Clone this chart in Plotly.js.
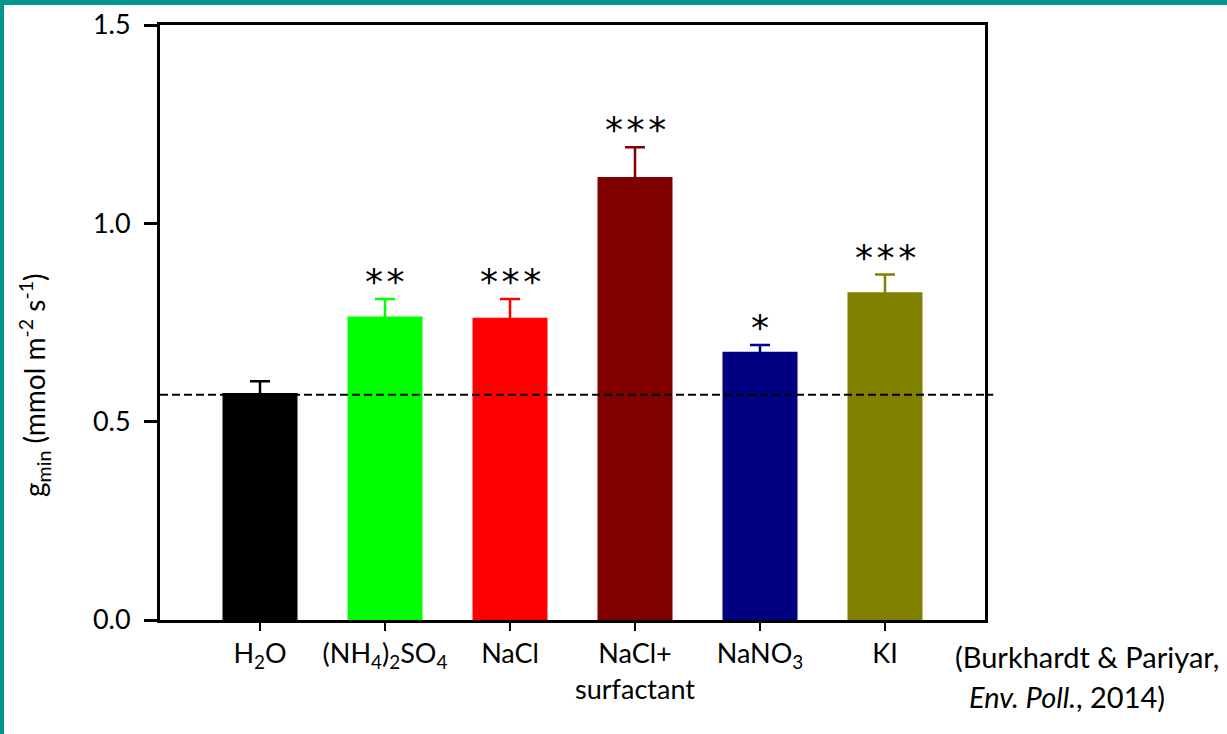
<!DOCTYPE html>
<html>
<head>
<meta charset="utf-8">
<script src="https://cdn.plot.ly/plotly-3.0.1.min.js"></script>
<style>
  html, body { margin: 0; padding: 0; background: #ffffff; }
  #wrap { position: relative; width: 1227px; height: 734px; overflow: hidden; }
  #chart { position: absolute; left: 0; top: 0; width: 1227px; height: 734px; }
  #bTop { position: absolute; left: 0; top: 0; width: 1227px; height: 5px; background: #00968f; }
  #bLeft { position: absolute; left: 0; top: 0; width: 4px; height: 734px; background: #00968f; }
</style>
</head>
<body>
<div id="wrap">
  <div id="chart"></div>
  <div id="bTop"></div>
  <div id="bLeft"></div>
</div>
<script>
// ---- data ----
var categories = ["H<sub>2</sub>O", "(NH<sub>4</sub>)<sub>2</sub>SO<sub>4</sub>", "NaCl", "NaCl+<br>surfactant", "NaNO<sub>3</sub>", "KI"];
var means = [0.572, 0.765, 0.762, 1.117, 0.676, 0.826];
var errors = [0.030, 0.044, 0.047, 0.075, 0.017, 0.045];
var significance = ["", "**", "***", "***", "*", "***"];
var barColors = ["#000000", "#00ff00", "#ff0000", "#800000", "#000080", "#808000"];
var controlLevel = 0.568;
var yTicks = [0, 0.5, 1.0, 1.5];
var citationLine1 = "(Burkhardt & Pariyar,";
var citationLine2 = "<i>Env. Poll.</i>, 2014)";
var yTitle = "g<sub>min</sub> (mmol m<sup>-2</sup> s<sup>-1</sup>)";

var FONT = "Lato, 'Open Sans', sans-serif";

// Error bars drawn symmetric in the bar's own colour: the lower half is hidden inside the bar,
// so only the upper whisker is visible, as in the reference.
var traces = categories.map(function (c, i) {
  return {
    type: "bar",
    x: [i],
    y: [means[i]],
    width: 0.6,
    marker: { color: barColors[i], line: { width: 0 } },
    error_y: {
      type: "data", symmetric: true,
      array: [errors[i]],
      color: barColors[i], thickness: 2.5, width: 10
    },
    hoverinfo: "skip",
    showlegend: false
  };
});

var annotations = [];
categories.forEach(function (c, i) {
  if (significance[i]) {
    annotations.push({
      x: i, y: means[i] + errors[i], xref: "x", yref: "y",
      text: significance[i].split("").join("\u200A"), showarrow: false,
      xanchor: "center", yanchor: "bottom", yshift: -5,
      font: { family: "'DejaVu Sans', sans-serif", size: 36, color: "#000000" }
    });
  }
});
annotations.push({
  xref: "paper", yref: "paper", x: -0.1515, y: 0.395,
  text: yTitle, textangle: -90, showarrow: false,
  xanchor: "center", yanchor: "middle",
  font: { family: FONT, size: 28, color: "#000000" }
});
annotations.push({
  xref: "paper", yref: "paper", x: 0.961, y: -0.062,
  text: citationLine1, showarrow: false, xanchor: "left", yanchor: "middle",
  font: { family: FONT, size: 29, color: "#000000" }
});
annotations.push({
  xref: "paper", yref: "paper", x: 0.978, y: -0.128,
  text: citationLine2, showarrow: false, xanchor: "left", yanchor: "middle",
  font: { family: FONT, size: 29, color: "#000000" }
});

var layout = {
  width: 1227, height: 734,
  margin: { l: 160, r: 242, t: 25, b: 114 },
  paper_bgcolor: "#ffffff", plot_bgcolor: "#ffffff",
  barmode: "overlay",
  font: { family: FONT, size: 27, color: "#000000" },
  xaxis: {
    range: [-0.8, 5.8],
    tickmode: "array", tickvals: categories.map(function (c, i) { return i; }), ticktext: categories,
    ticks: "outside", ticklen: 8, tickwidth: 2.5, tickcolor: "#000000",
    showline: true, linecolor: "#000000", linewidth: 3, mirror: true,
    showgrid: false, zeroline: false, fixedrange: true,
    tickfont: { family: FONT, size: 27, color: "#000000" }
  },
  yaxis: {
    range: [0, 1.5],
    tickmode: "array", tickvals: yTicks, tickformat: ".1f",
    ticks: "outside", ticklen: 13, tickwidth: 3, tickcolor: "#000000",
    ticklabelstandoff: 8,
    showline: true, linecolor: "#000000", linewidth: 3, mirror: true,
    showgrid: false, zeroline: false, fixedrange: true,
    tickfont: { family: FONT, size: 27, color: "#000000" }
  },
  shapes: [{
    type: "line", xref: "paper", yref: "y",
    x0: 0, x1: 1.01, y0: controlLevel, y1: controlLevel,
    line: { color: "#000000", width: 2, dash: "8px,4px" },
    layer: "above"
  }],
  annotations: annotations
};

Plotly.newPlot("chart", traces, layout, { displayModeBar: false, staticPlot: true });
</script>
</body>
</html>
